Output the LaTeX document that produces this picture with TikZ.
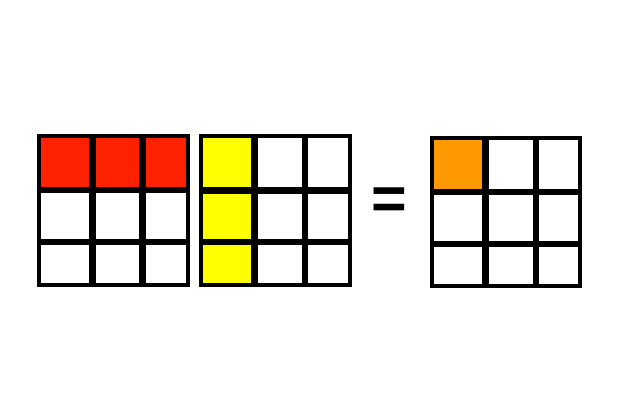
\documentclass[tikz,border=0pt]{standalone}
\usepackage{fontspec}
\setmainfont{Liberation Sans}
\definecolor{rowred}{HTML}{FF2200}
\definecolor{colyellow}{HTML}{FFFF00}
\definecolor{cellorange}{HTML}{FF9900}
\begin{document}
\begin{tikzpicture}[x=1pt,y=-1pt,
	outer/.style={line width=4pt},
	inner/.style={line width=6.4pt}]
		\useasboundingbox[fill=white] (0,0) rectangle (640,400);
		% left factor: first row
		\fill[rowred] (39.3,136) rectangle (188,190);
		% right factor: first column
		\fill[colyellow] (201.3,135.8) rectangle (254.3,285);
		% product: one entry
		\fill[cellorange] (432,137.8) rectangle (485.3,191.7);
		\foreach \xa/\xb/\xc/\xd/\ya/\yb/\yc/\yd in {
			39.3/92.5/142.5/188/136/190/242/285.3,
			201.3/254.3/304.7/350.3/135.8/190.3/242/285,
			432/485.3/535.8/580.3/137.8/191.7/244/286}{
			\draw[inner] (\xb,\ya) -- (\xb,\yd) (\xc,\ya) -- (\xc,\yd)
				(\xa,\yb) -- (\xd,\yb) (\xa,\yc) -- (\xd,\yc);
			\draw[outer] (\xa,\ya) rectangle (\xd,\yd);
		};
		\node[font=\fontsize{61}{61}\selectfont\bfseries,inner sep=0pt] (eq) at (389,204) {=};
	\end{tikzpicture}
\end{document}
